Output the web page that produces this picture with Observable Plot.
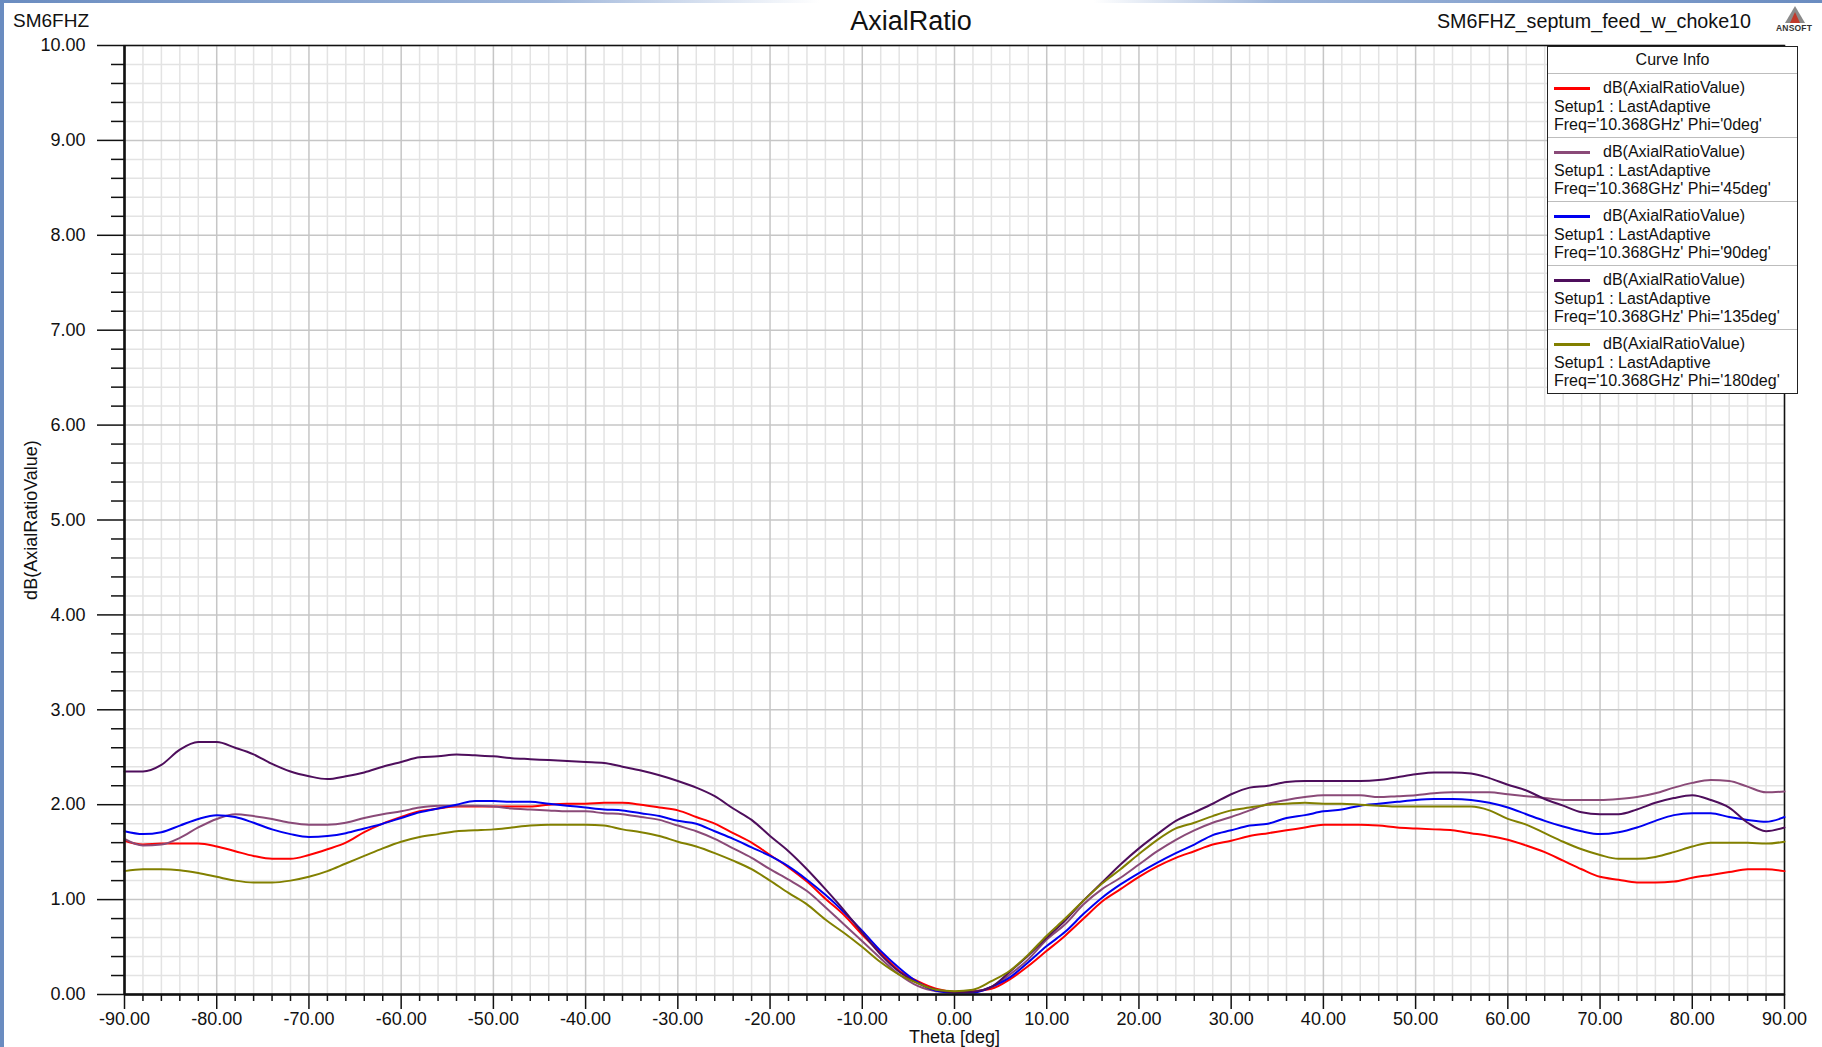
<!DOCTYPE html>
<html>
<head>
<meta charset="utf-8">
<script src="https://cdn.jsdelivr.net/npm/d3@7"></script>
<script src="https://cdn.jsdelivr.net/npm/@observablehq/plot@0.6"></script>
<style>
  html, body { margin: 0; padding: 0; background: #fff; }
  body { width: 1822px; height: 1047px; overflow: hidden; font-family: "Liberation Sans", Arial, sans-serif; }
  #wrap { position: relative; width: 1822px; height: 1047px; }
  #frameL { position: absolute; left: 0; top: 0; width: 4px; height: 1047px; background: #6a8cc0; }
  #frameT { position: absolute; left: 0; top: 0; width: 1822px; height: 3px; background: linear-gradient(90deg, #6a8cc0 0%, #9fb6da 30%, #ffffff 45%, #ffffff 60%, #9fb6da 70%, #6a8cc0 100%); }
  .hdr { position: absolute; top: 8px; font-size: 19px; color: #111; line-height: 26px; white-space: nowrap; }
  #title { position: absolute; top: 5px; left: 0; width: 1822px; text-align: center; font-size: 27px; color: #111; line-height: 32px; }
  #chart { position: absolute; left: 0; top: 0; }
  #legend { position: absolute; left: 1547px; top: 46px; width: 249px; border: 1.5px solid #222; background: #fff; font-size: 16px; color: #111; }
  #legend .head { height: 26px; line-height: 26px; text-align: center; border-bottom: 1px solid #bdbdbd; }
  #legend .entry { position: relative; height: 63px; border-bottom: 1px solid #bdbdbd; }
  #legend .entry:last-child { border-bottom: none; }
  #legend .sw { position: absolute; left: 6px; top: 13px; width: 36px; height: 3px; }
  #legend .l1 { position: absolute; left: 55px; top: 5px; line-height: 17px; white-space: nowrap; }
  #legend .l2 { position: absolute; left: 6px; top: 24px; line-height: 17px; white-space: nowrap; }
  #legend .l3 { position: absolute; left: 6px; top: 42px; line-height: 17px; white-space: nowrap; }
  #logo { position: absolute; left: 1776px; top: 6px; width: 38px; height: 30px; }
  #logo .tri { position: absolute; left: 9px; top: 0; width: 0; height: 0; border-left: 10px solid transparent; border-right: 10px solid transparent; border-bottom: 17px solid #8a8a8a; }
  #logo .tri2 { position: absolute; left: 14px; top: 6px; width: 0; height: 0; border-left: 5px solid transparent; border-right: 5px solid transparent; border-bottom: 11px solid #c0392b; }
  #logo .txt { position: absolute; left: 0; top: 17px; font-size: 8.5px; font-weight: bold; color: #333; letter-spacing: 0.2px; }
</style>
</head>
<body>
<div id="wrap">
  <div id="chart"></div>
  <div id="frameL"></div>
  <div id="frameT"></div>
  <div class="hdr" style="left:13px;">SM6FHZ</div>
  <div id="title">AxialRatio</div>
  <div class="hdr" id="rtitle" style="right:71px; font-size:19.7px;">SM6FHZ_septum_feed_w_choke10</div>
  <div id="logo"><div class="tri"></div><div class="tri2"></div><div class="txt">ANSOFT</div></div>
  <div id="legend"></div>
</div>
<script>
// ---- Data ----
const theta = [-90,-88,-86,-84,-82,-80,-78,-76,-74,-72,-70,-68,-66,-64,-62,-60,-58,-56,-54,-52,-50,-48,-46,-44,-42,-40,-38,-36,-34,-32,-30,-28,-26,-24,-22,-20,-18,-16,-14,-12,-10,-8,-6,-4,-2,0,2,4,6,8,10,12,14,16,18,20,22,24,26,28,30,32,34,36,38,40,42,44,46,48,50,52,54,56,58,60,62,64,66,68,70,72,74,76,78,80,82,84,86,88,90];

const phi0 = [1.62,1.58,1.59,1.59,1.59,1.56,1.51,1.46,1.43,1.43,1.47,1.53,1.60,1.71,1.80,1.87,1.93,1.96,1.98,1.98,1.98,1.98,1.98,2.00,2.01,2.01,2.02,2.02,2.00,1.97,1.94,1.87,1.80,1.70,1.60,1.47,1.34,1.19,1.01,0.84,0.63,0.44,0.25,0.14,0.06,0.03,0.035,0.06,0.16,0.30,0.46,0.62,0.80,0.98,1.11,1.24,1.35,1.44,1.51,1.58,1.62,1.67,1.70,1.73,1.76,1.79,1.79,1.79,1.78,1.76,1.75,1.74,1.73,1.70,1.67,1.63,1.57,1.50,1.41,1.32,1.24,1.21,1.18,1.18,1.19,1.23,1.26,1.29,1.32,1.32,1.30];

const phi45 = [1.64,1.57,1.58,1.65,1.76,1.85,1.90,1.88,1.85,1.81,1.79,1.79,1.81,1.86,1.90,1.93,1.97,1.99,1.99,1.99,1.98,1.96,1.95,1.94,1.93,1.93,1.91,1.90,1.87,1.84,1.78,1.72,1.64,1.54,1.44,1.32,1.21,1.09,0.92,0.74,0.56,0.38,0.21,0.09,0.035,0.025,0.03,0.08,0.21,0.37,0.58,0.74,0.95,1.11,1.23,1.37,1.51,1.63,1.73,1.81,1.87,1.94,2.01,2.05,2.08,2.10,2.10,2.10,2.08,2.09,2.10,2.12,2.13,2.13,2.13,2.11,2.09,2.07,2.05,2.05,2.05,2.06,2.08,2.12,2.18,2.23,2.26,2.25,2.19,2.13,2.14];

const phi90 = [1.72,1.69,1.71,1.78,1.85,1.89,1.87,1.81,1.74,1.69,1.66,1.67,1.70,1.75,1.80,1.86,1.92,1.96,2.00,2.04,2.04,2.03,2.03,2.01,1.99,1.97,1.95,1.94,1.91,1.88,1.83,1.80,1.72,1.64,1.55,1.46,1.35,1.21,1.05,0.87,0.67,0.46,0.28,0.13,0.04,0.02,0.02,0.08,0.18,0.34,0.51,0.66,0.85,1.02,1.16,1.28,1.39,1.49,1.58,1.68,1.73,1.78,1.80,1.86,1.89,1.93,1.95,1.99,2.01,2.03,2.05,2.06,2.06,2.05,2.02,1.97,1.90,1.83,1.77,1.72,1.69,1.71,1.76,1.83,1.89,1.91,1.91,1.87,1.84,1.82,1.87];

const phi135 = [2.35,2.35,2.42,2.58,2.66,2.66,2.60,2.53,2.43,2.35,2.30,2.27,2.30,2.34,2.40,2.45,2.50,2.51,2.53,2.52,2.51,2.49,2.48,2.47,2.46,2.45,2.44,2.40,2.36,2.31,2.25,2.18,2.09,1.96,1.84,1.67,1.51,1.32,1.11,0.89,0.65,0.42,0.24,0.12,0.05,0.025,0.03,0.08,0.24,0.41,0.60,0.78,0.99,1.18,1.37,1.54,1.69,1.83,1.92,2.01,2.11,2.18,2.20,2.24,2.25,2.25,2.25,2.25,2.26,2.29,2.32,2.34,2.34,2.33,2.28,2.21,2.15,2.06,1.99,1.92,1.90,1.90,1.95,2.02,2.07,2.10,2.05,1.97,1.81,1.72,1.76];

const phi180 = [1.30,1.32,1.32,1.31,1.28,1.24,1.20,1.18,1.18,1.20,1.24,1.30,1.38,1.46,1.54,1.61,1.66,1.69,1.72,1.73,1.74,1.76,1.78,1.79,1.79,1.79,1.78,1.74,1.71,1.67,1.61,1.56,1.49,1.41,1.32,1.20,1.07,0.95,0.79,0.65,0.50,0.34,0.21,0.12,0.05,0.035,0.05,0.14,0.25,0.42,0.62,0.80,0.99,1.17,1.32,1.48,1.63,1.75,1.81,1.88,1.94,1.97,2.00,2.01,2.02,2.01,2.01,2.00,1.99,1.98,1.98,1.98,1.98,1.98,1.94,1.85,1.79,1.70,1.61,1.53,1.47,1.43,1.43,1.45,1.50,1.56,1.60,1.60,1.60,1.59,1.61];

const seriesNames = ["Phi='0deg'", "Phi='45deg'", "Phi='90deg'", "Phi='135deg'", "Phi='180deg'"];
const seriesValues = [phi0, phi45, phi90, phi135, phi180];
const seriesColors = ["#ff0000", "#8a4a78", "#0000f0", "#4e0e5c", "#828000"];

const xMajorTicks = [-90,-80,-70,-60,-50,-40,-30,-20,-10,0,10,20,30,40,50,60,70,80,90];
const yMajorTicks = [0,1,2,3,4,5,6,7,8,9,10];

// ---- Build table ----
const rows = [];
seriesNames.forEach((name, s) => {
  seriesValues[s].forEach((v, i) => rows.push({theta: theta[i], ar: v, phi: name}));
});

const xMinor = d3.range(-90, 90.001, 2).filter(v => Math.abs(v % 10) > 1e-9);
const yMinor = d3.range(0, 10.001, 0.2).map(v => +v.toFixed(1)).filter(v => Math.abs(v - Math.round(v)) > 1e-9);
const fmt = d => (+d).toFixed(2);

const chart = Plot.plot({
  width: 1822,
  height: 1047,
  marginLeft: 124,
  marginRight: 38,
  marginTop: 45,
  marginBottom: 53,
  style: {fontFamily: "'Liberation Sans', Arial, sans-serif", fontSize: "18px", color: "#111", background: "transparent", overflow: "visible"},
  x: {domain: [-90, 90]},
  y: {domain: [0, 10]},
  color: {domain: seriesNames, range: seriesColors},
  marks: [
    Plot.gridX(xMinor, {stroke: "#e3e3e3", strokeOpacity: 1, strokeWidth: 1.5}),
    Plot.gridY(yMinor, {stroke: "#e3e3e3", strokeOpacity: 1, strokeWidth: 1.5}),
    Plot.gridX(xMajorTicks, {stroke: "#c6c6c6", strokeOpacity: 1, strokeWidth: 1.5}),
    Plot.gridY(yMajorTicks, {stroke: "#c6c6c6", strokeOpacity: 1, strokeWidth: 1.5}),
    Plot.frame({stroke: "#111", strokeWidth: 1.5}),
    Plot.line(rows, {x: "theta", y: "ar", z: "phi", stroke: "phi", strokeWidth: 2, curve: "monotone-x"}),
    Plot.ruleX([-90], {stroke: "#111", strokeWidth: 2.5}),
    Plot.ruleY([0], {stroke: "#111", strokeWidth: 2.5}),
    Plot.axisX(xMinor, {tickSize: 7, tickFormat: () => "", label: null, stroke: "#111", strokeWidth: 1.5}),
    Plot.axisX(xMajorTicks, {tickSize: 15, tickPadding: 3, tickFormat: fmt, stroke: "#111", strokeWidth: 1.5,
      label: "Theta [deg]", labelAnchor: "center", labelArrow: "none", labelOffset: 48}),
    Plot.axisY(yMinor, {tickSize: 13, tickFormat: () => "", label: null, stroke: "#111", strokeWidth: 1.5}),
    Plot.axisY(yMajorTicks, {tickSize: 27, tickPadding: 12, tickFormat: fmt, stroke: "#111", strokeWidth: 1.5,
      label: "dB(AxialRatioValue)", labelAnchor: "center", labelArrow: "none", labelOffset: 100})
  ]
});
document.getElementById("chart").appendChild(chart);

// ---- Legend ("Curve Info") ----
const legend = document.getElementById("legend");
const head = document.createElement("div");
head.className = "head";
head.textContent = "Curve Info";
legend.appendChild(head);
seriesNames.forEach((name, s) => {
  const e = document.createElement("div");
  e.className = "entry";
  e.innerHTML = `<div class="sw" style="background:${seriesColors[s]}"></div>` +
    `<div class="l1">dB(AxialRatioValue)</div>` +
    `<div class="l2">Setup1 : LastAdaptive</div>` +
    `<div class="l3">Freq='10.368GHz' ${name}</div>`;
  legend.appendChild(e);
});
</script>
</body>
</html>
